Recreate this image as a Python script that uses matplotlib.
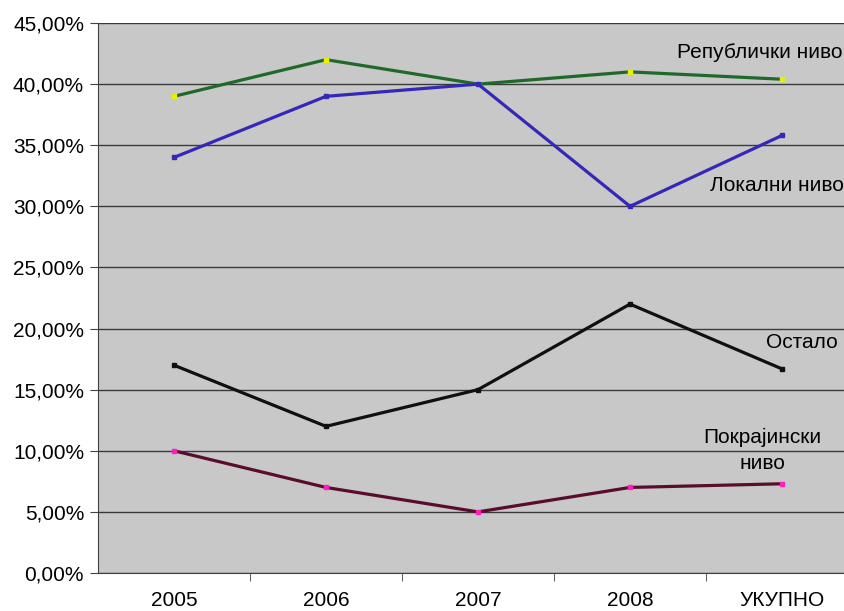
import matplotlib
matplotlib.use("Agg")
import matplotlib.pyplot as plt
from matplotlib.ticker import FuncFormatter, FixedLocator

plt.rcParams['font.family'] = ['Liberation Sans', 'DejaVu Sans']

kategorije = ["2005", "2006", "2007", "2008", "УКУПНО"]
republicki = [39.0, 42.0, 40.0, 41.0, 40.4]
lokalni = [34.0, 39.0, 40.0, 30.0, 35.8]
ostalo = [17.0, 12.0, 15.0, 22.0, 16.7]
pokrajinski = [10.0, 7.0, 5.0, 7.0, 7.3]

serije = [
    ("Републички ниво", republicki, "#1f6a2a", "#e8f000"),
    ("Локални ниво", lokalni, "#3528b8", "#3528b8"),
    ("Остало", ostalo, "#101010", "#101010"),
    ("Покрајински\nниво", pokrajinski, "#5a0c2c", "#ff20c0"),
]

fs = 15

fig = plt.figure(figsize=(8.45, 6.11), dpi=100)
ax = fig.add_axes([98 / 845, 38 / 611, 760 / 845, 550 / 611])
ax.set_facecolor("#c8c8c8")

x = list(range(len(kategorije)))
for naziv, vrednosti, boja, marker_boja in serije:
    ax.plot(x, vrednosti, color=boja, lw=2.3, marker="s", ms=2.2,
            mfc=marker_boja, mec=marker_boja, zorder=3)

ax.set_xlim(-0.5, 4.5)
ax.set_ylim(0, 45)
ax.set_yticks([0, 5, 10, 15, 20, 25, 30, 35, 40, 45])
ax.yaxis.set_major_formatter(FuncFormatter(lambda v, p: f"{v:.2f}%".replace(".", ",")))
ax.grid(axis="y", color="#3a3a3a", lw=1)
ax.set_axisbelow(True)

ax.set_xticks(x)
ax.set_xticklabels(kategorije)
ax.tick_params(axis="x", length=0, pad=13, labelsize=fs)
ax.xaxis.set_minor_locator(FixedLocator([0.5, 1.5, 2.5, 3.5]))
ax.tick_params(axis="x", which="minor", length=6, color="#404040")
ax.tick_params(axis="y", length=6, color="#404040", labelsize=fs, pad=4)

for s in ["top", "right"]:
    ax.spines[s].set_visible(False)
ax.spines["left"].set_color("#404040")
ax.spines["bottom"].set_color("#404040")

# natpisi serija
ax.text(4.40, 42.6, "Републички ниво", ha="right", va="center", fontsize=fs)
ax.text(4.405, 31.7, "Локални ниво", ha="right", va="center", fontsize=fs)
ax.text(4.37, 18.9, "Остало", ha="right", va="center", fontsize=fs)
ax.text(3.87, 10.0, "Покрајински\nниво", ha="center", va="center", fontsize=fs,
        linespacing=1.45)

fig.savefig("out.png", dpi=100)
